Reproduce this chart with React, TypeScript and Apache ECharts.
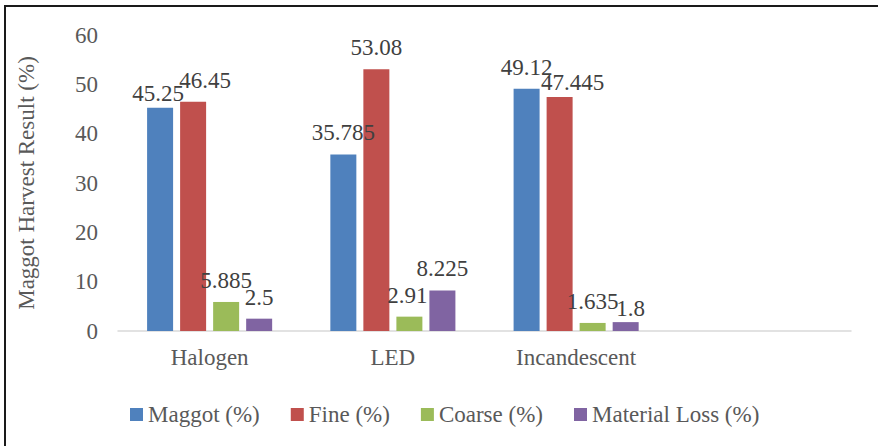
import React, { useEffect, useRef } from "react";
import * as echarts from "echarts";

const categories = ["Halogen", "LED", "Incandescent", ""];
const seriesNames = ["Maggot (%)", "Fine (%)", "Coarse (%)", "Material Loss (%)"];
const maggot = [45.25, 35.785, 49.12, null];
const fine = [46.45, 53.08, 47.445, null];
const coarse = [5.885, 2.91, 1.635, null];
const materialLoss = [2.5, 8.225, 1.8, null];
const colors = ["#4F81BD", "#C0504D", "#9BBB59", "#8064A2"];
const yTicks = { min: 0, max: 60, interval: 10 };

// label nudges (x, y) per series and category, mimicking the reference's label placement
const labelNudges = [
  [[-2, 7], [0, 0], [0, 0]],
  [[12, 0], [0, 0], [13, 7]],
  [[0, 0], [-2, 0], [0, 0]],
  [[0, 0], [0, 0], [5, 8]],
];

const FONT = "Times New Roman, Liberation Serif, DejaVu Serif, serif";

export default function App() {
  const ref = useRef<HTMLDivElement>(null);
  useEffect(() => {
    const chart = echarts.init(ref.current!, null, { renderer: "svg" });
    const values = [maggot, fine, coarse, materialLoss];
    chart.setOption({
      animation: false,
      backgroundColor: "#ffffff",
      textStyle: { fontFamily: FONT },
      grid: { left: 118, right: 27, top: 35, bottom: 115, containLabel: false },
      legend: {
        left: 125,
        top: 398,
        itemWidth: 13,
        itemHeight: 13,
        itemGap: 31,
        icon: "rect",
        textStyle: { fontFamily: FONT, fontSize: 23, color: "#595959" },
        data: seriesNames,
      },
      xAxis: {
        type: "category",
        data: categories,
        axisLine: { lineStyle: { color: "#d9d9d9", width: 1.5 } },
        axisTick: { show: false },
        axisLabel: { fontFamily: FONT, fontSize: 23, color: "#595959", margin: 15 },
      },
      yAxis: {
        type: "value",
        min: yTicks.min,
        max: yTicks.max,
        interval: yTicks.interval,
        splitLine: { show: false },
        axisLine: { show: false },
        axisTick: { show: false },
        axisLabel: { fontFamily: FONT, fontSize: 23, color: "#595959", margin: 20 },
        name: "Maggot Harvest Result (%)",
        nameLocation: "middle",
        nameGap: 80,
        nameTextStyle: { fontFamily: FONT, fontSize: 23, color: "#595959" },
      },
      series: seriesNames.map((name, i) => ({
        name,
        type: "bar",
        data: values[i].map((v, j) =>
          j < labelNudges[i].length
            ? { value: v, label: { offset: labelNudges[i][j] } }
            : { value: v }
        ),
        barWidth: 26,
        barGap: "27%",
        itemStyle: { color: colors[i] },
        label: {
          show: true,
          position: "top",
          distance: 10,
          fontFamily: FONT,
          fontSize: 23,
          color: "#404040",
        },
      })),
      graphic: [
        { type: "line", shape: { x1: 4, y1: 6, x2: 878, y2: 6 }, style: { stroke: "#1a1a1a", lineWidth: 2 } },
        { type: "line", shape: { x1: 5, y1: 6, x2: 5, y2: 446 }, style: { stroke: "#1a1a1a", lineWidth: 2 } },
      ],
    });
    return () => chart.dispose();
  }, []);
  return (
    <div
      ref={ref}
      style={{ position: "fixed", left: 0, top: 0, width: 878, height: 446 }}
    />
  );
}
